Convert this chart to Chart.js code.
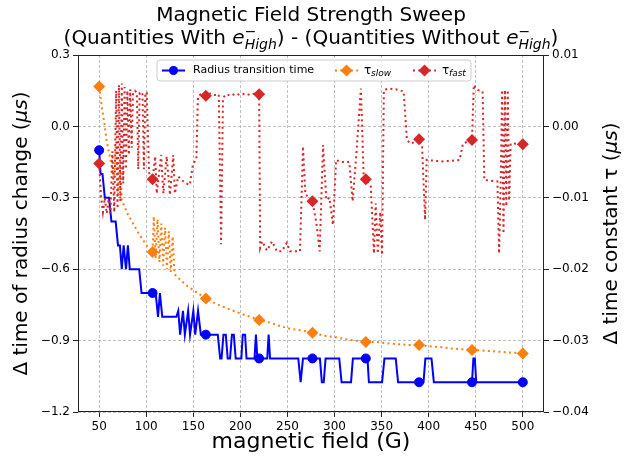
<!DOCTYPE html>
<html>
<head>
<meta charset="utf-8">
<script src="https://cdn.jsdelivr.net/npm/chart.js@4.4.1/dist/chart.umd.min.js"></script>
<style>
  html, body { margin: 0; padding: 0; background: #fff; }
  #wrap { width: 642px; height: 462px; }
</style>
</head>
<body>
<div id="wrap"><canvas id="myChart" width="642" height="462"></canvas></div>
<script>
var fieldTicks = [50, 100, 150, 200, 250, 300, 350, 400, 450, 500];
var radiusTicks = [-1.2, -0.9, -0.6, -0.3, 0.0, 0.3];
var tauTicks = [-0.04, -0.03, -0.02, -0.01, 0.00, 0.01];

// fields where a marker is shown on each curve
var markerField = [50, 106.7, 163.3, 219.9, 276.5, 333.2, 389.8, 446, 500];

// [field (G), delta radius transition time (us)]
var radiusChange = [
    [50, -0.1], [51.5, -0.2], [53.5, -0.2], [56, -0.3], [60.5, -0.3], [63, -0.4], [67.5, -0.4],
    [70, -0.5], [72, -0.5], [74, -0.6], [76, -0.5], [78.5, -0.6], [80.5, -0.5], [82.5, -0.6],
    [92.5, -0.6], [95, -0.7], [106.7, -0.7], [110, -0.7], [112.5, -0.8], [114.5, -0.7], [117, -0.8],
    [132, -0.8], [134, -0.775], [136, -0.875], [139, -0.775], [141, -0.875], [144.5, -0.775],
    [146.5, -0.875], [150, -0.775], [152, -0.875], [155, -0.775], [158, -0.875], [163.3, -0.875],
    [176, -0.875], [178.5, -0.975], [180, -0.975], [182, -0.875], [184.5, -0.875], [186.5, -0.975],
    [189, -0.975], [191, -0.875], [193, -0.875], [195, -0.975], [201, -0.975], [202.5, -0.875],
    [205, -0.875], [206.5, -0.975], [215, -0.975], [216.5, -0.875], [218, -0.975], [219.9, -0.975],
    [228.5, -0.975], [230, -0.875], [231.5, -0.975], [261.5, -0.975], [264, -1.075], [266.5, -0.975],
    [276.5, -0.975], [284.5, -0.975], [286.5, -1.075], [288.5, -1.075], [290.5, -0.975], [305, -0.975],
    [307.5, -1.075], [317.5, -1.075], [319.5, -0.975], [333.2, -0.975], [335, -0.975], [336.5, -1.075],
    [350.5, -1.075], [353, -0.975], [365, -0.975], [367.5, -1.075], [389.8, -1.075], [394.5, -1.075],
    [396.5, -0.975], [403, -0.975], [405.5, -1.075], [446, -1.075], [447.5, -0.975], [449, -0.975],
    [450.5, -1.075], [500, -1.075]
];

// [field (G), delta tau slow (us)]
var tauSlow = [
    [50, 0.0056], [53, 0.0025], [55, 0.0009], [58, -0.0020], [61, -0.0040], [64, -0.0060], [66, -0.0072],
    [68, -0.0022], [70, -0.0095], [72, -0.0050], [74, -0.0103], [80, -0.0122], [86, -0.0136],
    [92, -0.0150], [98, -0.0162], [102, -0.0170], [106.7, -0.0176], [108, -0.0126], [110, -0.0185],
    [112, -0.0130], [114, -0.0190], [116, -0.0136], [118, -0.0195], [120, -0.0142], [122, -0.0200],
    [124, -0.0147], [126, -0.0204], [128, -0.0154], [130, -0.0207], [137, -0.0216], [144, -0.0224],
    [152, -0.0231], [163.3, -0.0241], [175, -0.0249], [186, -0.0255], [198, -0.0261], [209, -0.0266],
    [219.9, -0.0271], [232, -0.0275], [243, -0.0280], [255, -0.0284], [266, -0.0286], [276.5, -0.0289],
    [288, -0.0293], [300, -0.0295], [311, -0.0298], [322, -0.0300], [333.2, -0.0302], [345, -0.0302],
    [356, -0.0304], [367, -0.0305], [378, -0.0306], [389.8, -0.0306], [401, -0.0308], [412, -0.0309],
    [423, -0.0311], [434, -0.0312], [446, -0.0313], [457, -0.0314], [468, -0.0315], [479, -0.0316],
    [490, -0.0317], [500, -0.0318]
];

// [field (G), delta tau fast (us)]
var tauFast = [
    [50, -0.0052], [52, -0.0098], [54, -0.0120], [56, -0.0100], [58, -0.0122], [60, -0.0102],
    [62, -0.0122], [64, -0.0035], [66, -0.0120], [68, 0.0050], [69.5, -0.0115], [71, 0.0058],
    [72.5, -0.0105], [74, 0.0060], [75.5, -0.0080], [77, 0.0055], [78.5, -0.0060], [80, 0.0050],
    [81.5, -0.0040], [83, 0.0052], [84.5, -0.0030], [86, 0.0047], [88, 0.0050], [90, 0.0047],
    [91.5, -0.0060], [93, 0.0047], [96, 0.0047], [97.5, -0.0060], [99, 0.0047], [100.5, 0.0047],
    [103, -0.0065], [106.7, -0.0074], [109.5, -0.0042], [111.2, -0.0094], [115.8, -0.0040],
    [118.2, -0.0094], [121.7, -0.0042], [125.2, -0.0096], [128.7, -0.0040], [130.4, -0.0094],
    [133.9, -0.0070], [140.9, -0.0079], [146.2, -0.0082], [149.7, -0.0052], [153.2, -0.0047],
    [154.9, 0.0042], [158, 0.0045], [163.3, 0.0043], [168, 0.0046], [173, 0.0044], [177, 0.0045],
    [179.5, -0.0165], [181.5, 0.0040], [185, 0.0045], [190, 0.0043], [195, 0.0046], [200, 0.0044],
    [205, 0.0046], [210, 0.0044], [215, 0.0046], [219.9, 0.0045], [221, -0.0170], [223.1, -0.0161],
    [228.3, -0.0174], [233.6, -0.0161], [238.8, -0.0175], [244.1, -0.0175], [249.3, -0.0163],
    [252.8, -0.0175], [263.3, -0.0175], [266.5, -0.0028], [269, -0.0095], [276.5, -0.0105],
    [280.8, -0.0136], [284.2, -0.0175], [287.8, -0.0026], [291.3, -0.0103], [294.5, -0.0100],
    [298.3, -0.0138], [301.7, -0.0047], [307, -0.0050], [315.7, -0.0050], [319.2, -0.0105],
    [322.7, -0.0047], [328, 0.0053], [331, -0.0072], [333.2, -0.0074], [338.5, -0.0084],
    [341.9, -0.0178], [343.7, -0.0108], [346, -0.0178], [348.5, -0.0120], [350.5, -0.0180],
    [352.4, 0.0051], [357.7, 0.0053], [365, 0.0052], [373.4, 0.0049], [376.9, -0.0019],
    [380.4, -0.0024], [385, -0.0022], [389.8, -0.0018], [393, -0.0028], [396.2, -0.0131],
    [397.9, -0.0047], [405, -0.0048], [415, -0.0049], [425, -0.0048], [432.9, -0.0047],
    [436.4, -0.0024], [446, -0.0019], [447.9, 0.0058], [452, 0.0051], [457.3, 0.0049],
    [459.1, -0.0075], [466, -0.0076], [473, -0.0077], [474.8, -0.0178], [476.5, -0.0080],
    [478, 0.0051], [479.5, -0.0150], [481, 0.0051], [482.5, -0.0112], [484, 0.0051],
    [485.5, -0.0104], [487.1, -0.0024], [490.6, -0.0024], [500, -0.0025]
];

var FONT = '"DejaVu Sans", sans-serif';
var BLUE = '#0000ff', ORANGE = '#ff7f0e', RED = '#d62728';

function toPoints(rows) {
    return rows.map(function(r) { return { x: r[0], y: r[1] }; });
}

function markerRadius(size) {
    return function(ctx) {
        return markerField.indexOf(ctx.raw.x) >= 0 ? size : 0;
    };
}

function minusFmt(v, digits) {
    var s = Math.abs(v).toFixed(digits);
    return (v < -1e-9 ? '\u2212' : '') + s;
}

// draw a row of text pieces (different fonts / offsets), centred on x
function drawRuns(ctx, runs, cx, y) {
    var total = 0;
    runs.forEach(function(r) {
        ctx.font = r.font;
        r.w = ctx.measureText(r.text).width;
        if (r.advance !== false) total += r.w;
    });
    var x = cx - total / 2;
    runs.forEach(function(r) {
        ctx.font = r.font;
        ctx.fillText(r.text, x, y + (r.dy || 0));
        if (r.advance !== false) x += r.w;
    });
}

function diamond(ctx, x, y, r, color) {
    ctx.beginPath();
    ctx.moveTo(x - r, y);
    ctx.lineTo(x, y - r);
    ctx.lineTo(x + r, y);
    ctx.lineTo(x, y + r);
    ctx.closePath();
    ctx.fillStyle = color;
    ctx.fill();
}

var decor = {
    id: 'decor',
    afterDraw: function(chart) {
        var ctx = chart.ctx;
        var a = chart.chartArea;
        var cx = (a.left + a.right) / 2;
        var cy = (a.top + a.bottom) / 2;
        ctx.save();

        // frame
        ctx.strokeStyle = '#222';
        ctx.lineWidth = 1;
        ctx.strokeRect(a.left + 0.5, a.top + 0.5, a.right - a.left - 1, a.bottom - a.top - 1);

        // title
        ctx.fillStyle = '#000';
        ctx.textBaseline = 'alphabetic';
        var tf = '20px ' + FONT, ti = 'italic 20px ' + FONT, ts = '14px ' + FONT, tsi = 'italic 14px ' + FONT;
        drawRuns(ctx, [{ text: 'Magnetic Field Strength Sweep', font: tf }], cx, 21);
        drawRuns(ctx, [
            { text: '(Quantities With ', font: tf },
            { text: 'e', font: ti },
            { text: '\u2212', font: ts, dy: -8, advance: false },
            { text: 'High', font: tsi, dy: 5 },
            { text: ') - (Quantities Without ', font: tf },
            { text: 'e', font: ti },
            { text: '\u2212', font: ts, dy: -8, advance: false },
            { text: 'High', font: tsi, dy: 5 },
            { text: ')', font: tf }
        ], cx, 44);

        // axis titles
        var xf = '22px ' + FONT;
        var lf = '20px ' + FONT, li = 'italic 20px ' + FONT;
        ctx.textBaseline = 'middle';
        drawRuns(ctx, [{ text: 'magnetic field (G)', font: xf }], cx, 442);
        ctx.save();
        ctx.translate(22, cy);
        ctx.rotate(-Math.PI / 2);
        drawRuns(ctx, [
            { text: '\u0394 time of radius change (', font: lf },
            { text: '\u03bcs', font: li },
            { text: ')', font: lf }
        ], 0, 0);
        ctx.restore();
        ctx.save();
        ctx.translate(612, cy);
        ctx.rotate(-Math.PI / 2);
        drawRuns(ctx, [
            { text: '\u0394 time constant \u03c4 (', font: lf },
            { text: '\u03bcs', font: li },
            { text: ')', font: lf }
        ], 0, 0);
        ctx.restore();

        // legend
        var lx = 157, ly = 60, lw = 314, lh = 21, rr = 3;
        ctx.beginPath();
        ctx.moveTo(lx + rr, ly);
        ctx.arcTo(lx + lw, ly, lx + lw, ly + lh, rr);
        ctx.arcTo(lx + lw, ly + lh, lx, ly + lh, rr);
        ctx.arcTo(lx, ly + lh, lx, ly, rr);
        ctx.arcTo(lx, ly, lx + lw, ly, rr);
        ctx.closePath();
        ctx.fillStyle = 'rgba(255,255,255,0.8)';
        ctx.fill();
        ctx.strokeStyle = '#cccccc';
        ctx.lineWidth = 1;
        ctx.stroke();

        var my = ly + lh / 2;
        ctx.lineWidth = 2;
        ctx.strokeStyle = BLUE;
        ctx.beginPath(); ctx.moveTo(162, my); ctx.lineTo(185, my); ctx.stroke();
        ctx.fillStyle = BLUE;
        ctx.beginPath(); ctx.arc(173.5, my, 4.5, 0, Math.PI * 2); ctx.fill();

        ctx.setLineDash([2, 3.3]);
        ctx.strokeStyle = ORANGE;
        ctx.beginPath(); ctx.moveTo(335, my); ctx.lineTo(358, my); ctx.stroke();
        ctx.strokeStyle = RED;
        ctx.beginPath(); ctx.moveTo(413, my); ctx.lineTo(436, my); ctx.stroke();
        ctx.setLineDash([]);
        diamond(ctx, 346.5, my, 6, ORANGE);
        diamond(ctx, 424.5, my, 6, RED);

        ctx.fillStyle = '#000';
        ctx.textBaseline = 'middle';
        ctx.textAlign = 'left';
        ctx.font = '11px ' + FONT;
        ctx.fillText('Radius transition time', 193, my);
        ctx.font = '12px ' + FONT;
        ctx.fillText('\u03c4', 364, my);
        ctx.fillText('\u03c4', 442, my);
        ctx.font = 'italic 9px ' + FONT;
        ctx.fillText('slow', 371, my + 3);
        ctx.fillText('fast', 449, my + 3);

        ctx.restore();
    }
};

var ctx = document.getElementById('myChart').getContext('2d');
var myChart = new Chart(ctx, {
    type: 'line',
    data: {
        datasets: [{
            label: 'Radius transition time',
            data: toPoints(radiusChange),
            yAxisID: 'y',
            borderColor: BLUE,
            backgroundColor: BLUE,
            borderWidth: 2,
            pointStyle: 'circle',
            pointRadius: markerRadius(4.5),
            pointBorderWidth: 1,
            order: 3
        }, {
            label: 'tau slow',
            data: toPoints(tauSlow),
            yAxisID: 'y1',
            borderColor: ORANGE,
            backgroundColor: ORANGE,
            borderWidth: 2,
            borderDash: [2, 3.3],
            pointStyle: 'rectRot',
            pointRadius: markerRadius(6),
            pointBorderWidth: 0,
            order: 2
        }, {
            label: 'tau fast',
            data: toPoints(tauFast),
            yAxisID: 'y1',
            borderColor: RED,
            backgroundColor: RED,
            borderWidth: 2,
            borderDash: [2, 3.3],
            pointStyle: 'rectRot',
            pointRadius: markerRadius(6),
            pointBorderWidth: 0,
            order: 1
        }]
    },
    options: {
        responsive: false,
        animation: false,
        devicePixelRatio: 1,
        layout: { padding: { top: 55, left: 0, right: 0, bottom: 0 } },
        elements: { line: { tension: 0 } },
        plugins: { legend: { display: false }, tooltip: { enabled: false } },
        scales: {
            x: {
                type: 'linear',
                min: 27.5,
                max: 522.5,
                afterBuildTicks: function(s) { s.ticks = fieldTicks.map(function(v) { return { value: v }; }); },
                afterFit: function(s) { s.height = 50; },
                ticks: { color: '#000', font: { family: FONT, size: 12 }, padding: 3, maxRotation: 0,
                         callback: function(v) { return String(v); } },
                grid: { color: '#b0b0b0', lineWidth: 0.8, tickLength: 5, tickColor: '#222', tickWidth: 1 },
                border: { display: false, dash: [3, 2] }
            },
            y: {
                type: 'linear',
                position: 'left',
                min: -1.2,
                max: 0.3,
                afterBuildTicks: function(s) { s.ticks = radiusTicks.map(function(v) { return { value: v }; }); },
                afterFit: function(s) { s.width = 78; },
                ticks: { color: '#000', font: { family: FONT, size: 12 }, padding: 3,
                         callback: function(v) { return minusFmt(v, 1); } },
                grid: { color: '#b0b0b0', lineWidth: 0.8, tickLength: 5, tickColor: '#222', tickWidth: 1 },
                border: { display: false, dash: [3, 2] }
            },
            y1: {
                type: 'linear',
                position: 'right',
                min: -0.04,
                max: 0.01,
                afterBuildTicks: function(s) { s.ticks = tauTicks.map(function(v) { return { value: v }; }); },
                afterFit: function(s) { s.width = 98; },
                ticks: { color: '#000', font: { family: FONT, size: 12 }, padding: 3,
                         callback: function(v) { return minusFmt(v, 2); } },
                grid: { drawOnChartArea: false, tickLength: 5, tickColor: '#222', tickWidth: 1 },
                border: { display: false }
            }
        }
    },
    plugins: [decor]
});
</script>
</body>
</html>
